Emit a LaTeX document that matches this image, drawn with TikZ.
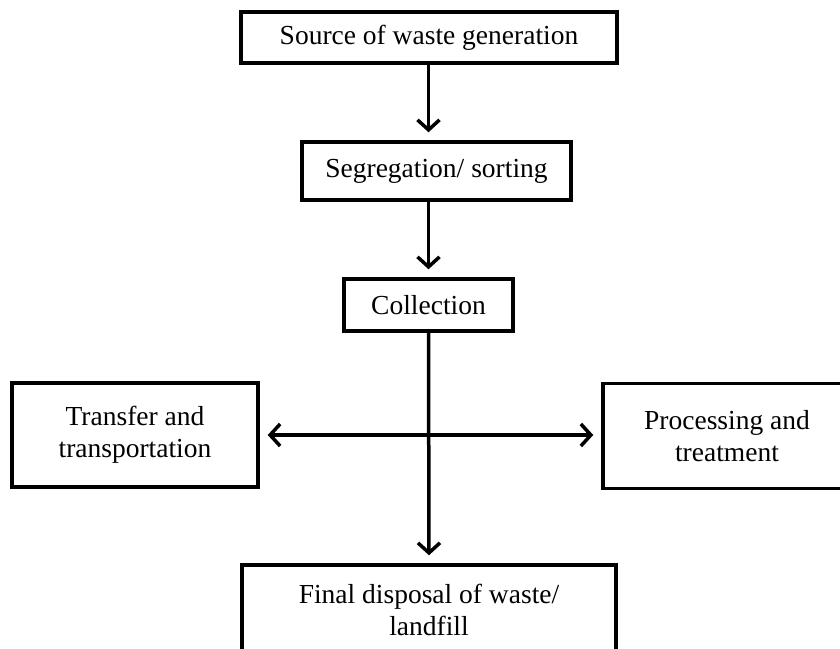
\documentclass[tikz,border=0pt]{standalone}
\usepackage{fontspec}
\setmainfont{Liberation Serif}
\usetikzlibrary{arrows.meta}
\begin{document}
\begin{tikzpicture}[x=1pt,y=-1pt,
  box/.style={draw=black, line width=3.5pt, fill=white, inner sep=0pt, align=center,
    font=\fontsize{27.5}{32}\selectfont},
  barb/.tip={Straight Barb[length=10pt,width=22pt,line width=3.5pt]},
  flow/.style={line width=3.5pt, -barb, shorten >=8pt},
  both/.style={line width=3.5pt, barb-barb, shorten >=8pt, shorten <=8pt}]
  \clip (0,0) rectangle (840,648);
  \fill[white] (0,0) rectangle (840,648);

  % process boxes
  \node[box, minimum width=376pt, minimum height=51pt] (src) at (429,37.5) {Source of waste generation};
  \node[box, minimum width=269pt, minimum height=58pt] (seg) at (436.5,171) {Segregation/ sorting};
  \node[box, minimum width=169pt, minimum height=52pt] (col) at (428.5,305) {Collection};
  \node[box, minimum width=246pt, minimum height=104pt] (tra) at (135,435) {Transfer and\\transportation};
  \node[box, minimum width=248pt, minimum height=105pt] (pro) at (727,436) {Processing and\\treatment};
  \node[box, minimum width=374pt, minimum height=90pt] (fin) at (429,610) {Final disposal of waste/\\landfill};

  \coordinate (hub) at (428.5,435);

  % connectors
  \draw[flow] (src.south -| 428.5,0) -- (seg.north -| 428.5,0);
  \draw[flow] (seg.south -| 428.5,0) -- (col.north);
  \draw[flow] (col.south) -- (fin.north);
  \draw[both] (tra.east) -- (hub) -- (pro.west |- hub);
\end{tikzpicture}
\end{document}
